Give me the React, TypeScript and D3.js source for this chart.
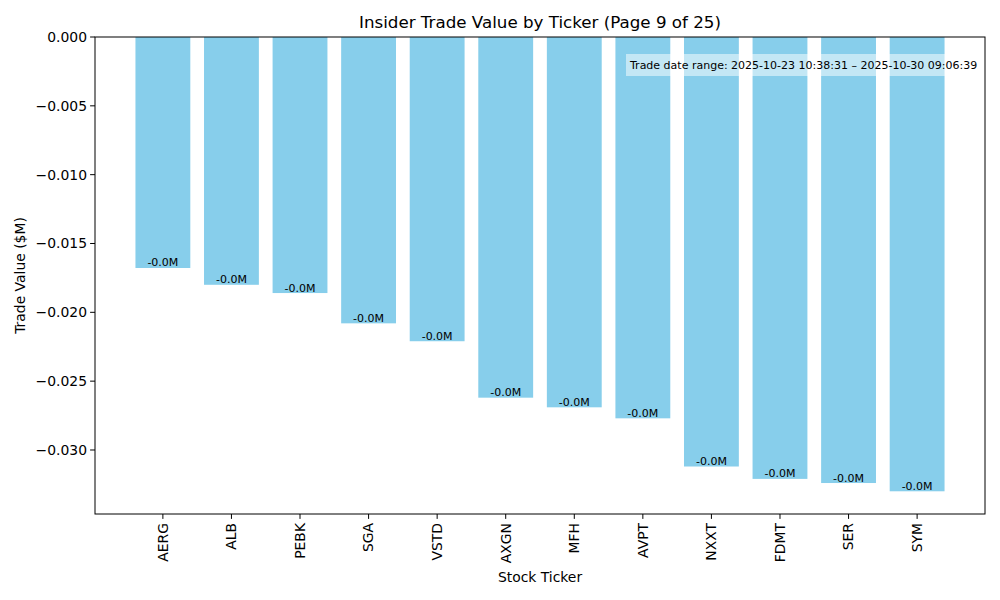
import React from "react";
import * as d3 from "d3";

const tickers = ["AERG", "ALB", "PEBK", "SGA", "VSTD", "AXGN", "MFH", "AVPT", "NXXT", "FDMT", "SER", "SYM"];
const values = [-0.01678, -0.0180, -0.0186, -0.0208, -0.0221, -0.0262, -0.0269, -0.0277, -0.0312, -0.0321, -0.0324, -0.0330];
const yTicks = [0, -0.005, -0.01, -0.015, -0.02, -0.025, -0.03];
const title = "Insider Trade Value by Ticker (Page 9 of 25)";
const note = "Trade date range: 2025-10-23 10:38:31 \u2013 2025-10-30 09:06:39";

const W = 1000, H = 600;
const L = 95, R = 985, T = 37, B = 514;
const FONT = "DejaVu Sans, sans-serif";

export default function App() {
  const n = tickers.length;
  const xMin = -0.4, xMax = n - 1 + 0.4;
  const xm = (xMax - xMin) * 0.05;
  const x = d3.scaleLinear().domain([xMin - xm, xMax + xm]).range([L, R]);
  const vmin = d3.min(values) as number;
  const y = d3.scaleLinear().domain([vmin * 1.05, 0]).range([B, T]);
  const fmt = (v: number) => (v === 0 ? "0.000" : d3.format(".3f")(v).replace("-", "\u2212"));

  return (
    <svg width={W} height={H} style={{ position: "absolute", left: 0, top: 0 }} fontFamily={FONT}>
      <rect x={0} y={0} width={W} height={H} fill="white" />
      {values.map((v, i) => (
        <rect key={i} x={x(i - 0.4)} y={y(0)} width={x(i + 0.4) - x(i - 0.4)} height={y(v) - y(0)} fill="#87CEEB" />
      ))}
      {values.map((v, i) => (
        <text key={"l" + i} x={x(i)} y={y(v) - 1.5} fontSize={11} textAnchor="middle" fill="black">
          {"-0.0M"}
        </text>
      ))}
      <rect x={626} y={54} width={358} height={22} fill="white" fillOpacity={0.5} />
      <text x={630} y={68.5} fontSize={11} fill="black">{note}</text>
      <rect x={L} y={T} width={R - L} height={B - T} fill="none" stroke="black" strokeWidth={1} />
      {yTicks.map((t, i) => (
        <g key={"y" + i}>
          <line x1={L - 4.9} x2={L} y1={y(t)} y2={y(t)} stroke="black" />
          <text x={L - 8} y={y(t)} dy="0.35em" fontSize={13.9} textAnchor="end">{fmt(t)}</text>
        </g>
      ))}
      {tickers.map((t, i) => (
        <g key={"x" + i}>
          <line x1={x(i)} x2={x(i)} y1={B} y2={B + 4.9} stroke="black" />
          <text transform={`translate(${x(i)},${B + 9}) rotate(-90)`} dy="0.35em" fontSize={13.9} textAnchor="end">{t}</text>
        </g>
      ))}
      <text x={(L + R) / 2} y={28} fontSize={16.7} textAnchor="middle">{title}</text>
      <text x={(L + R) / 2} y={582} fontSize={13.9} textAnchor="middle">Stock Ticker</text>
      <text transform={`translate(25,${(T + B) / 2}) rotate(-90)`} fontSize={13.9} textAnchor="middle">Trade Value ($M)</text>
    </svg>
  );
}
